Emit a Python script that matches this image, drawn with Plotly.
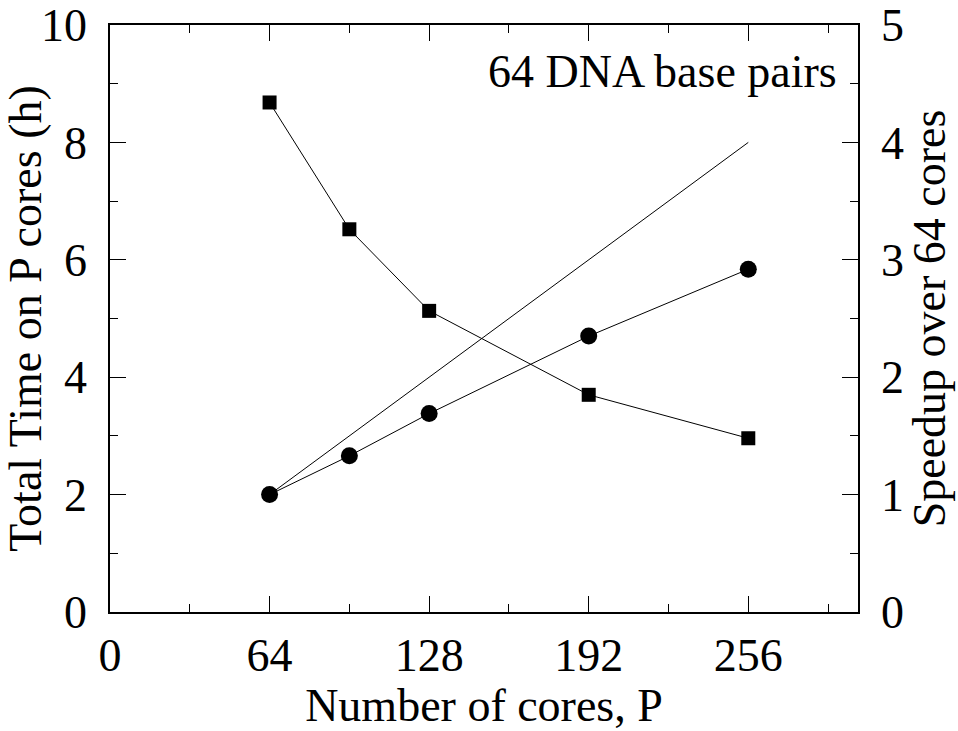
import plotly.graph_objects as go

cores = [64, 96, 128, 192, 256]
total_time_h = [8.68, 6.52, 5.13, 3.70, 2.96]
speedup = [1.00, 1.33, 1.69, 2.35, 2.92]
ideal_cores = [64, 256]
ideal_speedup = [1, 4]

FONT = "Times New Roman"

fig = go.Figure()
fig.add_trace(go.Scatter(x=ideal_cores, y=ideal_speedup, yaxis="y2", mode="lines",
                         line=dict(color="black", width=1), showlegend=False))
fig.add_trace(go.Scatter(x=cores, y=total_time_h, mode="lines+markers",
                         line=dict(color="black", width=1),
                         marker=dict(symbol="square", size=14, color="black"),
                         showlegend=False))
fig.add_trace(go.Scatter(x=cores, y=speedup, yaxis="y2", mode="lines+markers",
                         line=dict(color="black", width=1),
                         marker=dict(symbol="circle", size=17, color="black"),
                         showlegend=False))

tf = dict(family=FONT, size=46, color="black")
axcommon = dict(showgrid=False, zeroline=False, showline=True, linecolor="black",
                linewidth=1.5, ticks="inside", ticklen=16, tickwidth=1, tickcolor="black",
                automargin=False, tickfont=tf)

fig.update_layout(
    width=958, height=731,
    margin=dict(l=110, r=100, t=25, b=119),
    plot_bgcolor="white", paper_bgcolor="white",
    font=tf,
    xaxis=dict(range=[0, 300], tickvals=[0, 64, 128, 192, 256], mirror="ticks",
               minor=dict(tickvals=[32, 96, 160, 224, 288], ticks="inside", ticklen=8,
                          tickcolor="black", tickwidth=1),
               title=dict(text="Number of cores, P", font=tf, standoff=8),
               ticklabelstandoff=2, **axcommon),
    yaxis=dict(range=[0, 10], tickvals=[0, 2, 4, 6, 8, 10], mirror="ticks",
               minor=dict(tickvals=[1, 3, 5, 7, 9], ticks="inside", ticklen=8,
                          tickcolor="black", tickwidth=1),
               title=dict(text="Total Time on P cores (h)", font=tf, standoff=8),
               ticklabelstandoff=12, **axcommon),
    yaxis2=dict(range=[0, 5], tickvals=[0, 1, 2, 3, 4, 5], overlaying="y", side="right",
                title=dict(text="Speedup over 64 cores", font=tf, standoff=8),
                ticklabelstandoff=12, **axcommon),
    annotations=[dict(text="64 DNA base pairs", x=0.975, y=0.92, xref="paper", yref="paper",
                      xanchor="right", yanchor="middle", showarrow=False, font=tf)],
)

fig.write_html("out.html")
